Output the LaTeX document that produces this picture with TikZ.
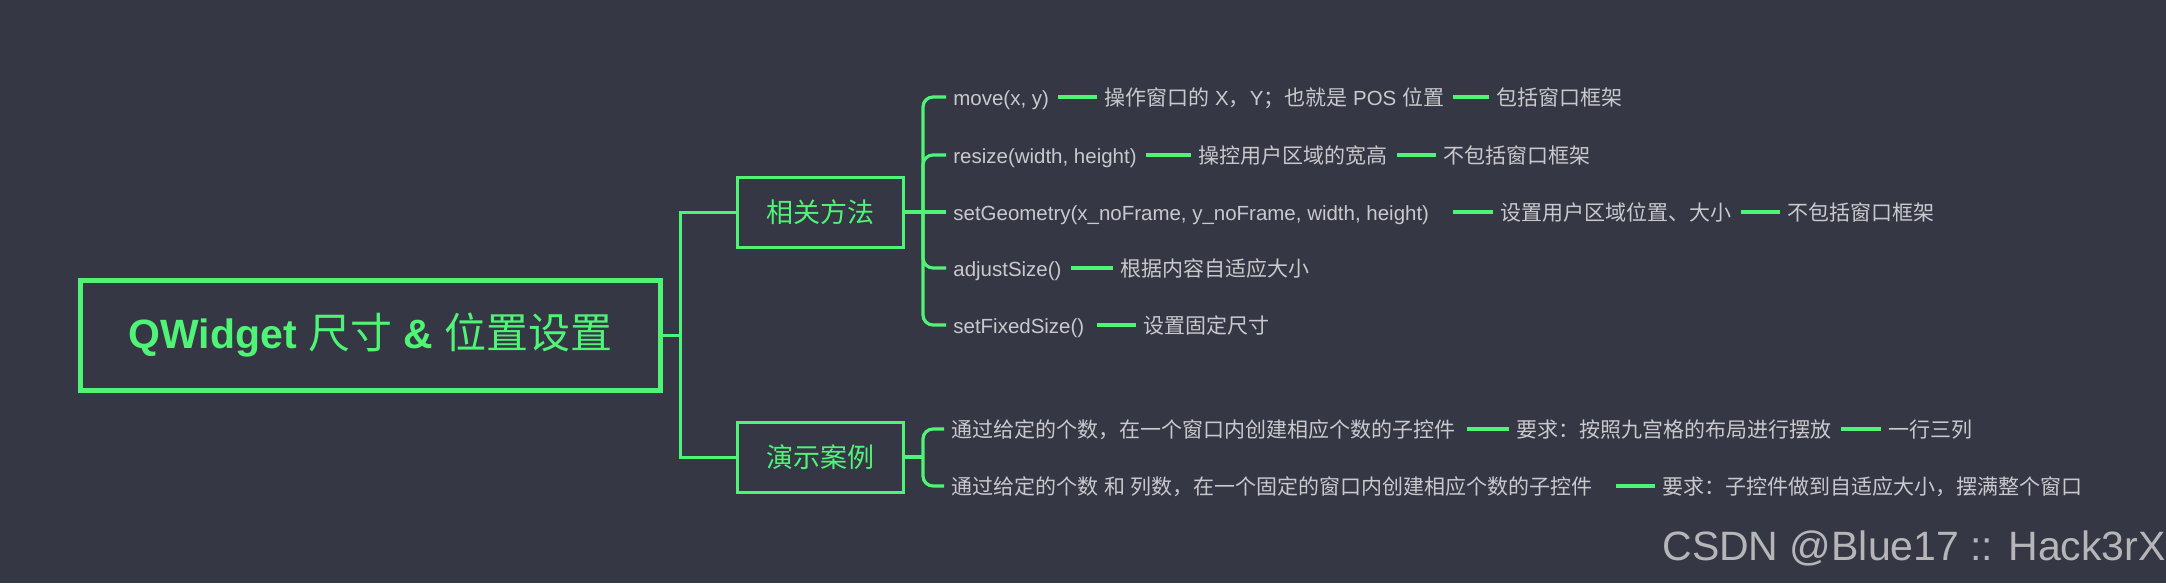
\documentclass[tikz,border=0pt]{standalone}
\usepackage{fontspec}
\setmainfont[Scale=0.975]{Liberation Sans}
\newfontfamily\cjkfont{Noto Sans CJK SC}
\newfontfamily\wmfont{Liberation Sans}
\newcommand\cj[1]{{\cjkfont #1}}
\definecolor{bg}{HTML}{353744}
\definecolor{fg}{HTML}{4FF477}
\definecolor{tg}{HTML}{C9C9CD}
\definecolor{wm}{HTML}{B6B6B8}
\begin{document}
\begin{tikzpicture}[x=0.5pt,y=-0.5pt,
  conn/.style={draw=fg, line width=1.6pt},
  trunk/.style={draw=fg, line width=1.5pt},
  txt/.style={anchor=west, inner sep=0pt, text=tg, font=\fontsize{10.5pt}{12pt}\selectfont, text height=8pt, text depth=0pt},
  catbox/.style={draw=fg, line width=1.5pt, minimum width=83pt, minimum height=35pt, inner sep=0pt, text=fg, font=\fontsize{13.5pt}{16pt}\selectfont\cjkfont},
  mainbox/.style={draw=fg, line width=2.5pt, minimum width=290pt, minimum height=55pt, inner sep=0pt, text=fg, font=\fontsize{21pt}{25pt}\selectfont},
  link/.style={conn, shorten <=4.5pt, shorten >=3.5pt}]
\fill[bg] (0,0) rectangle (2166,583);
\useasboundingbox (0,0) rectangle (2166,583);

% main and category boxes
\node[mainbox] (main) at (370.5,335.5) {{\bfseries QWidget} \cj{尺寸} {\bfseries\&} \cj{位置设置}};
\node[catbox] (cat1) at (820.5,212) {相关方法};
\node[catbox] (cat2) at (820.5,457) {演示案例};

% trunk
\coordinate (tx) at (680,335.5);
\draw[trunk] (main.east) -- (main.east -| tx);
\draw[trunk] (cat1.west) -| (tx) |- (cat2.west);

% rows of 相关方法
\node[txt] (r1a) at (953,97) {move(x, y)};
\node[txt] (r1b) at (1104,97) {\cj{操作窗口的} X\cj{，}Y\cj{；也就是} POS \cj{位置}};
\node[txt] (r1c) at (1496,97) {\cj{包括窗口框架}};
\node[txt] (r2a) at (953,155) {resize(width, height)};
\node[txt] (r2b) at (1198,155) {\cj{操控用户区域的宽高}};
\node[txt] (r2c) at (1443,155) {\cj{不包括窗口框架}};
\node[txt] (r3a) at (953,212) {setGeometry(x\_noFrame, y\_noFrame, width, height)};
\node[txt] (r3b) at (1500,212) {\cj{设置用户区域位置、大小}};
\node[txt] (r3c) at (1787,212) {\cj{不包括窗口框架}};
\node[txt] (r4a) at (953,268) {adjustSize()};
\node[txt] (r4b) at (1120,268) {\cj{根据内容自适应大小}};
\node[txt] (r5a) at (953,325) {setFixedSize()};
\node[txt] (r5b) at (1143,325) {\cj{设置固定尺寸}};

% rows of 演示案例
\node[txt] (d1a) at (951,429) {\cj{通过给定的个数，在一个窗口内创建相应个数的子控件}};
\node[txt] (d1b) at (1516,429) {\cj{要求：按照九宫格的布局进行摆放}};
\node[txt] (d1c) at (1888,429) {\cj{一行三列}};
\node[txt] (d2a) at (951,486) {\cj{通过给定的个数} \cj{和} \cj{列数，在一个固定的窗口内创建相应个数的子控件}};
\node[txt] (d2b) at (1662,486) {\cj{要求：子控件做到自适应大小，摆满整个窗口}};

% brackets
\coordinate (b1) at (923,212);
\draw[conn] (cat1.east) -- (b1);
\foreach \n in {r1a,r2a,r4a,r5a}
  \draw[conn, rounded corners=5pt] (b1) |- ([xshift=-3.5pt]\n.west);
\draw[conn] (b1) -- ([xshift=-3.5pt]r3a.west);
\coordinate (b2) at (923,457);
\draw[conn] (cat2.east) -- (b2);
\foreach \n in {d1a,d2a}
  \draw[conn, rounded corners=5pt] (b2) |- ([xshift=-3.5pt]\n.west);

% links between texts
\draw[link] (r1a.east) -- (r1b.west);
\draw[link] (r1b.east) -- (r1c.west);
\draw[link] (r2a.east) -- (r2b.west);
\draw[link] (r2b.east) -- (r2c.west);
\draw[link, shorten <=12pt] (r3a.east) -- (r3b.west);
\draw[link] (r3b.east) -- (r3c.west);
\draw[link] (r4a.east) -- (r4b.west);
\draw[link, shorten <=6pt] (r5a.east) -- (r5b.west);
\draw[link, shorten <=5.5pt] (d1a.east) -- (d1b.west);
\draw[link] (d1b.east) -- (d1c.west);
\draw[link, shorten <=11.5pt] (d2a.east) -- (d2b.west);

% watermark
\node[anchor=base west, inner sep=0pt, text=wm, font=\wmfont\fontsize{20.5pt}{24pt}\selectfont] (wmk) at (1662,560) {CSDN @Blue17 :: Hack3rX};
\end{tikzpicture}
\end{document}
